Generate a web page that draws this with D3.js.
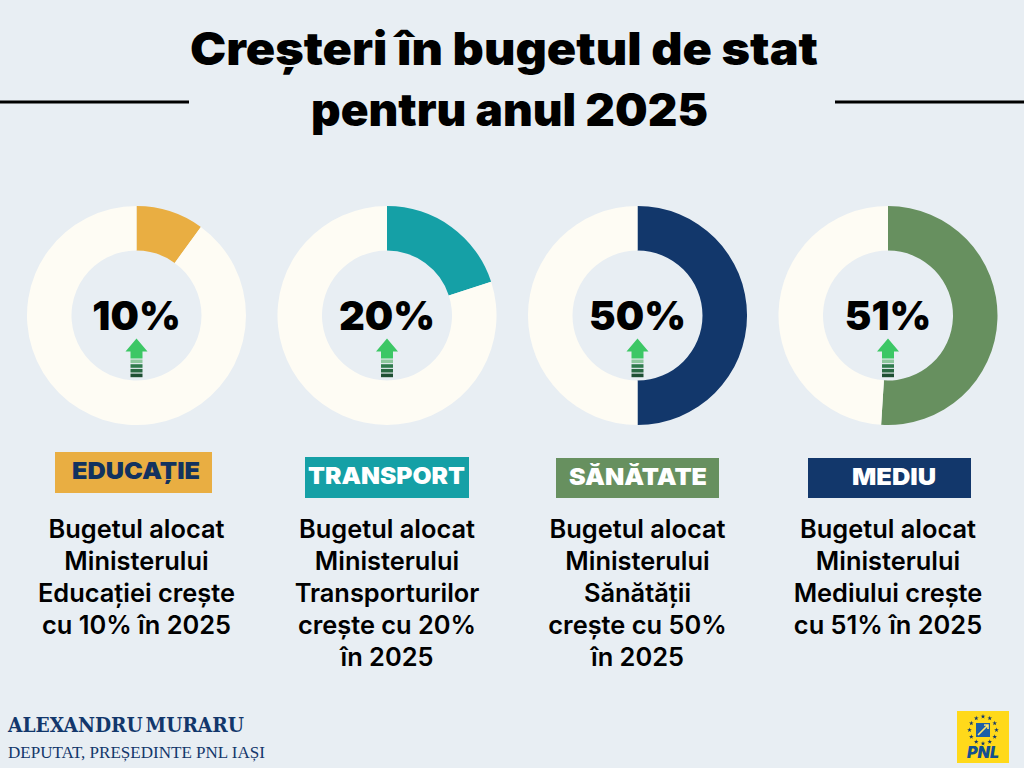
<!DOCTYPE html>
<html>
<head>
<meta charset="utf-8">
<script src="https://cdn.jsdelivr.net/npm/d3@7"></script>
<style>
  html, body { margin: 0; padding: 0; background: #e8eef3; }
  svg { display: block; }
  text { font-family: Inter, "Noto Sans", sans-serif; }
</style>
</head>
<body>
<main></main>
<script>
//Data
const titleLines = ["Creșteri în bugetul de stat", "pentru anul 2025"];
const categories = ["EDUCAȚIE", "TRANSPORT", "SĂNĂTATE", "MEDIU"];
const percents = [10, 20, 50, 51];
const sliceColors = ["#e9ae42", "#15a0a6", "#12376b", "#67905f"];
const badgeColors = ["#e9ae42", "#15a0a6", "#67905f", "#12376b"];
const badgeTextColors = ["#12325f", "#ffffff", "#ffffff", "#ffffff"];
const descriptions = [
	["Bugetul alocat", "Ministerului", "Educației crește", "cu 10% în 2025"],
	["Bugetul alocat", "Ministerului", "Transporturilor", "crește cu 20%", "în 2025"],
	["Bugetul alocat", "Ministerului", "Sănătății", "crește cu 50%", "în 2025"],
	["Bugetul alocat", "Ministerului", "Mediului crește", "cu 51% în 2025"]
];

//Parameters
const w = 1024;
const h = 768;
const cy = 315.5;
const rOuter = 109.5;
const rInner = 65;

const svg = d3.select("main").append("svg")
	.attr("width", w)
	.attr("height", h);

//Columns
const x = d3.scalePoint()
	.domain(categories)
	.range([136.5, 888]);

//Title
const titleX = [504, 509.5];
const titleWidth = [628, 397];

svg.append("g").selectAll("text")
	.data(titleLines)
	.enter()
	.append("text")
	.attr("x", (d, i) => titleX[i])
	.attr("y", (d, i) => 65 + i * 61)
	.attr("text-anchor", "middle")
	.attr("font-size", 45)
	.attr("font-weight", 900)
	.attr("fill", "#000")
	.attr("textLength", (d, i) => titleWidth[i])
	.attr("lengthAdjust", "spacingAndGlyphs")
	.text(d => d);

//Side rules
svg.selectAll("line.rule")
	.data([[0, 189], [835, 1024]])
	.enter()
	.append("line")
	.attr("class", "rule")
	.attr("x1", d => d[0])
	.attr("x2", d => d[1])
	.attr("y1", 102)
	.attr("y2", 102)
	.attr("stroke", "#000")
	.attr("stroke-width", 3);

//Donuts
const pie = d3.pie().sort(null);
const arc = d3.arc().innerRadius(rInner).outerRadius(rOuter);

const groups = svg.selectAll("g.donut")
	.data(categories)
	.enter()
	.append("g")
	.attr("class", "donut")
	.attr("transform", d => "translate(" + x(d) + "," + cy + ")");

groups.selectAll("path.slice")
	.data((d, i) => pie([percents[i], 100 - percents[i]]).map(s => ({ s: s, i: i })))
	.enter()
	.append("path")
	.attr("class", "slice")
	.attr("d", d => arc(d.s))
	.attr("fill", d => d.s.index === 0 ? sliceColors[d.i] : "#fefcf4");

groups.append("text")
	.attr("y", 14)
	.attr("text-anchor", "middle")
	.attr("font-size", 40)
	.attr("font-weight", 900)
	.attr("fill", "#000")
	.text((d, i) => percents[i] + "%");

//Arrow
const arrowBars = ["#8cc79c", "#2f7a4c", "#2a6a43", "#1e4f33"];
groups.append("path")
	.attr("d", "M0,23 L11,36 L6,36 L6,43 L-6,43 L-6,36 L-11,36 Z")
	.attr("fill", "#3cc765");
groups.selectAll("rect.bar")
	.data(arrowBars)
	.enter()
	.append("rect")
	.attr("class", "bar")
	.attr("x", -6)
	.attr("y", (d, i) => 44 + i * 4.7)
	.attr("width", 12)
	.attr("height", 3.6)
	.attr("fill", d => d);

//Badges
const badgeX = [55, 305, 556, 808];
const badgeY = [452, 457, 458, 458];
const badgeW = [157, 164, 163, 163];
const badgeH = [41, 41, 40, 40];
const badgeTextX = [136, 386.5, 638, 894];
const badgeTextW = [128, 157, 138, 84];

svg.selectAll("rect.badge")
	.data(categories)
	.enter()
	.append("rect")
	.attr("class", "badge")
	.attr("x", (d, i) => badgeX[i])
	.attr("y", (d, i) => badgeY[i])
	.attr("width", (d, i) => badgeW[i])
	.attr("height", (d, i) => badgeH[i])
	.attr("fill", (d, i) => badgeColors[i]);

svg.selectAll("text.badge-label")
	.data(categories)
	.enter()
	.append("text")
	.attr("class", "badge-label")
	.attr("x", (d, i) => badgeTextX[i])
	.attr("y", (d, i) => badgeY[i] + 27)
	.attr("text-anchor", "middle")
	.attr("font-size", 23.5)
	.attr("font-weight", 900)
	.attr("fill", (d, i) => badgeTextColors[i])
	.attr("textLength", (d, i) => badgeTextW[i])
	.attr("lengthAdjust", "spacingAndGlyphs")
	.text(d => d);

//Descriptions
const desc = svg.selectAll("g.desc")
	.data(categories)
	.enter()
	.append("g")
	.attr("class", "desc")
	.attr("transform", (d, i) => "translate(" + x(d) + ",0)");

desc.selectAll("text")
	.data((d, i) => descriptions[i])
	.enter()
	.append("text")
	.attr("y", (d, i) => 538 + i * 32)
	.attr("text-anchor", "middle")
	.attr("font-size", 25.4)
	.attr("font-weight", 600)
	.attr("fill", "#000")
	.text(d => d);

//Footer
svg.append("text")
	.attr("x", 8)
	.attr("y", 732)
	.attr("font-size", 20)
	.attr("font-weight", 700)
	.attr("fill", "#12376b")
	.style("font-family", "'DejaVu Serif', serif")
	.style("word-spacing", "-4px")
	.attr("textLength", 236)
	.attr("lengthAdjust", "spacingAndGlyphs")
	.text("ALEXANDRU MURARU");

svg.append("text")
	.attr("x", 8)
	.attr("y", 758)
	.attr("font-size", 16)
	.attr("fill", "#12376b")
	.style("font-family", "'Liberation Serif', serif")
	.attr("textLength", 257)
	.attr("lengthAdjust", "spacingAndGlyphs")
	.text("DEPUTAT, PREȘEDINTE PNL IAȘI");

//Logo
const logo = svg.append("g").attr("transform", "translate(983,737)");
logo.append("rect")
	.attr("x", -26).attr("y", -26)
	.attr("width", 52).attr("height", 52)
	.attr("fill", "#ffd91a");
logo.append("rect")
	.attr("x", -7).attr("y", -14)
	.attr("width", 14).attr("height", 14)
	.attr("fill", "#1b5fa8");
logo.append("path")
	.attr("d", "M-5,-2 L5,-12 M1,-12 L5,-12 L5,-8")
	.attr("fill", "none")
	.attr("stroke", "#ffe66b")
	.attr("stroke-width", 1.6);
logo.selectAll("path.star")
	.data(d3.range(12))
	.enter()
	.append("path")
	.attr("class", "star")
	.attr("d", d3.symbol(d3.symbolStar, 7))
	.attr("fill", "#12376b")
	.attr("transform", d => {
		const a = d * Math.PI / 6;
		return "translate(" + 13.5 * Math.cos(a) + "," + (-7 + 13.5 * Math.sin(a)) + ")";
	});
logo.append("text")
	.attr("y", 21)
	.attr("text-anchor", "middle")
	.attr("font-size", 16)
	.attr("font-weight", 900)
	.attr("font-style", "italic")
	.attr("fill", "#12508f")
	.text("PNL");
</script>
</body>
</html>
